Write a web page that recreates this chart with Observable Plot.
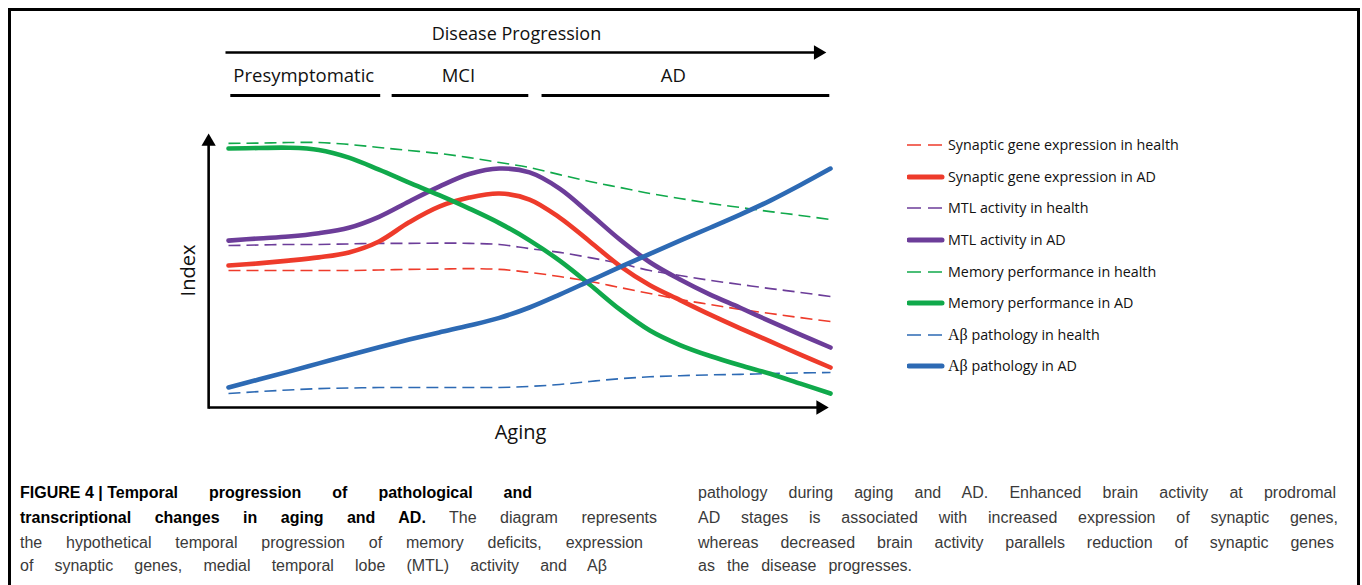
<!DOCTYPE html>
<html><head><meta charset="utf-8">
<script src="https://cdn.jsdelivr.net/npm/d3@7"></script>
<script src="https://cdn.jsdelivr.net/npm/@observablehq/plot@0.6"></script>
<style>
html,body{margin:0;padding:0;background:#fff;width:1362px;height:585px;overflow:hidden;position:relative;}
#frame{position:absolute;left:8px;top:8px;width:1352px;height:620px;box-sizing:border-box;border:3px solid #000;border-bottom:none;}
#chart{position:absolute;left:0;top:0;width:1362px;height:460px;}
#chart svg{max-width:none !important;}
#legend{position:absolute;left:0;top:0;font-family:"Open Sans",sans-serif;font-size:14.3px;color:#111;}
.row{position:absolute;height:20px;line-height:20px;white-space:nowrap;}
.row svg{position:absolute;left:0;top:0;}
.row span.t{position:absolute;left:41px;top:0;}
.serif{font-family:"Liberation Serif","DejaVu Serif",serif;font-size:16px;}
.cap{position:absolute;font-family:"Liberation Sans",Arial,sans-serif;font-size:16px;color:#3a3a3a;line-height:20px;}
.cap div{position:absolute;left:0;text-align:justify;text-align-last:justify;}
.cap b{color:#000;}
.nb{display:inline-block;white-space:nowrap;}
</style>
</head><body>
<div id="frame"></div>
<div id="chart"></div>
<div id="legend"></div>
<div class="cap" id="capL" style="left:20px;top:0;"></div>
<div class="cap" id="capR" style="left:698px;top:0;"></div>
<script>
// ---- data (aging and index on a 0–100 scale) ----
const aging = [0, 5, 10, 15, 20, 25, 30, 35, 40, 45, 50, 55, 60, 65, 70, 75, 80, 85, 90, 95, 100];
const synapticHealth = [50.0, 50.0, 50.0, 50.0, 50.0, 50.2, 50.4, 50.5, 50.7, 50.4, 49.3, 47.8, 46.0, 43.8, 41.6, 39.4, 37.6, 35.8, 34.3, 32.8, 31.4];
const synapticAD     = [51.8, 52.6, 53.6, 54.8, 56.6, 60.6, 67.6, 73.3, 76.6, 78.1, 75.9, 69.3, 60.6, 51.7, 44.6, 39.2, 33.9, 28.9, 24.1, 19.3, 14.6];
const mtlHealth      = [59.1, 59.3, 59.5, 59.5, 59.7, 59.9, 59.9, 60.0, 59.9, 59.5, 58.0, 56.6, 54.7, 52.6, 50.0, 48.2, 46.4, 44.9, 43.4, 42.0, 40.5];
const mtlAD          = [60.9, 61.7, 62.4, 63.6, 65.6, 69.6, 75.2, 80.6, 85.2, 87.2, 85.8, 79.9, 70.8, 61.3, 53.0, 46.7, 41.2, 36.4, 31.4, 26.6, 21.9];
const memoryHealth   = [96.4, 96.5, 96.7, 96.7, 96.0, 94.9, 93.8, 92.7, 91.2, 89.4, 87.6, 85.0, 82.5, 80.3, 78.1, 76.3, 74.5, 73.0, 71.5, 70.1, 68.6];
const memoryAD       = [94.5, 94.7, 94.8, 94.0, 91.2, 86.8, 82.1, 77.5, 72.6, 67.3, 61.0, 53.6, 44.9, 35.8, 28.1, 22.8, 18.8, 15.4, 12.3, 8.7, 5.1];
const abHealth       = [5.1, 5.8, 6.4, 6.9, 7.1, 7.3, 7.3, 7.3, 7.3, 7.3, 7.7, 8.4, 9.5, 10.5, 11.2, 11.6, 11.9, 12.1, 12.4, 12.6, 12.8];
const abAD           = [7.3, 10.2, 13.1, 16.1, 19.1, 22.0, 24.8, 27.4, 29.9, 32.7, 36.5, 41.2, 46.2, 51.2, 56.1, 60.9, 65.6, 70.4, 75.5, 81.2, 87.2];

const seriesNames = [
  "Synaptic gene expression in health", "Synaptic gene expression in AD",
  "MTL activity in health", "MTL activity in AD",
  "Memory performance in health", "Memory performance in AD",
  "Aβ pathology in health", "Aβ pathology in AD"
];
const seriesValues = [synapticHealth, synapticAD, mtlHealth, mtlAD, memoryHealth, memoryAD, abHealth, abAD];
const seriesColors = ["#EE3B2B", "#EE3B2B", "#6C3D99", "#6C3D99", "#10A94B", "#10A94B", "#2D6AB4", "#2D6AB4"];
const seriesDashed = [true, false, true, false, true, false, true, false];

const stages = ["Presymptomatic", "MCI", "AD"];
const stageStart = [0.3, 27.1, 52.0];
const stageEnd = [25.2, 49.8, 99.8];
const stageLabelX = [12.5, 38.2, 73.9];
const progressionTitle = "Disease Progression";
const xTitle = "Aging";
const yTitle = "Index";

const captionLeft = [
  '<b><span class="nb">FIGURE 4 | Temporal</span> progression of pathological and</b>',
  '<b>transcriptional changes in aging and AD.</b> The diagram represents',
  'the hypothetical temporal progression of memory deficits, expression',
  'of synaptic genes, medial temporal lobe (MTL) activity and Aβ'
];
const captionRight = [
  'pathology during aging and AD. Enhanced brain activity at prodromal',
  'AD stages is associated with increased expression of synaptic genes,',
  'whereas decreased brain activity parallels reduction of synaptic genes',
  'as the disease progresses.'
];

// ---- table ----
const rows = [];
seriesNames.forEach((name, i) => {
  aging.forEach((a, j) => rows.push({series: name, i, aging: a, value: seriesValues[i][j]}));
});
const stageRows = stages.map((s, i) => ({stage: s, x1: stageStart[i], x2: stageEnd[i], lx: stageLabelX[i]}));

// layout
const W = 1362, H = 460;
const mL = 228, mR = 532, mT = 133, mB = 53;
const axisX0 = -3.3; // y-axis sits a little left of first value
const font = "Open Sans";

const order = [0, 2, 4, 6, 1, 3, 5, 7];
const lineMarks = order.map(i => Plot.line(rows.filter(d => d.i === i), {
  x: "aging", y: "value", curve: "catmull-rom",
  stroke: seriesColors[i],
  strokeWidth: seriesDashed[i] ? 1.6 : 4.6,
  strokeDasharray: seriesDashed[i] ? "12,6" : undefined,
  strokeLinecap: seriesDashed[i] ? "butt" : "round",
  strokeLinejoin: "round"
}));

const one = [0];
const chart = Plot.plot({
  width: W, height: H,
  marginLeft: mL, marginRight: mR, marginTop: mT, marginBottom: mB,
  style: {overflow: "visible", background: "transparent", maxWidth: "none"},
  x: {domain: [0, 100], axis: null},
  y: {domain: [0, 100], axis: null},
  marks: [
    ...lineMarks,
    // axes with arrow heads
    Plot.link(one, {x1: () => axisX0, x2: () => axisX0, y1: () => -0.45, y2: () => 96.5, stroke: "#000", strokeWidth: 2.6}),
    Plot.dot(one, {x: () => axisX0, y: () => 100, symbol: "triangle", r: 5.3, fill: "#000", stroke: null, dy: 8.2}),
    Plot.link(one, {x1: () => axisX0, x2: () => 98, y1: () => 0, y2: () => 0, stroke: "#000", strokeWidth: 2.6}),
    Plot.dot(one, {x: () => 99.7, y: () => 0, symbol: "triangle", r: 5.3, fill: "#000", stroke: null, rotate: 90, dx: -8.2}),
    // axis titles
    Plot.text([yTitle], {text: d => d, frameAnchor: "left", textAnchor: "middle", lineAnchor: "middle", dx: -40, rotate: -90, fontSize: 20, fontFamily: font, fill: "#111"}),
    Plot.text([xTitle], {text: d => d, frameAnchor: "bottom", lineAnchor: "middle", dx: -9, dy: 25, fontSize: 20, fontFamily: font, fill: "#111"}),
    // disease progression header
    Plot.link(one, {x1: () => -0.5, x2: () => 97.6, y1: () => 100, y2: () => 100, dy: -81, stroke: "#000", strokeWidth: 2.6}),
    Plot.dot(one, {x: () => 99.3, y: () => 100, symbol: "triangle", r: 5.3, fill: "#000", stroke: null, rotate: 90, dx: -8.2, dy: -81}),
    Plot.text([progressionTitle], {text: d => d, frameAnchor: "top", lineAnchor: "middle", dx: -13, dy: -99, fontSize: 18, fontFamily: font, fill: "#111"}),
    Plot.link(stageRows, {x1: "x1", x2: "x2", y1: () => 100, y2: () => 100, dy: -38, stroke: "#000", strokeWidth: 3}),
    Plot.text(stageRows, {x: "lx", text: "stage", frameAnchor: "top", lineAnchor: "middle", dy: -57, fontSize: 18.5, fontFamily: font, fill: "#111"})
  ]
});
chart.style.position = "absolute";
chart.style.left = "0px";
chart.style.top = "0px";
chart.style.maxWidth = "none";
document.getElementById("chart").appendChild(chart);

// ---- legend ----
const leg = document.getElementById("legend");
const rowY = [145, 177, 208, 240, 272, 303, 335, 366];
seriesNames.forEach((name, i) => {
  const r = document.createElement("div");
  r.className = "row";
  r.style.left = "907px";
  r.style.top = (rowY[i] - 10) + "px";
  const dashed = seriesDashed[i];
  const line = dashed
    ? `<line x1="0" y1="10" x2="36" y2="10" stroke="${seriesColors[i]}" stroke-width="1.6" stroke-dasharray="14,7"/>`
    : `<line x1="2" y1="10" x2="35" y2="10" stroke="${seriesColors[i]}" stroke-width="5" stroke-linecap="round"/>`;
  const label = name.startsWith("Aβ") ? `<span class="serif">Aβ</span>${name.slice(2)}` : name;
  r.innerHTML = `<svg width="40" height="20">${line}</svg><span class="t">${label}</span>`;
  leg.appendChild(r);
});

// ---- caption ----
const capTops = [483, 508, 533, 556];
const leftW = [512, 637, 623, 587];
const rightW = [638, 640, 636, 214];
function fillCap(id, lines, widths) {
  const el = document.getElementById(id);
  lines.forEach((t, i) => {
    const d = document.createElement("div");
    d.style.top = capTops[i] + "px";
    d.style.width = widths[i] + "px";
    d.innerHTML = t;
    el.appendChild(d);
  });
}
fillCap("capL", captionLeft, leftW);
fillCap("capR", captionRight, rightW);
</script>
</body></html>
